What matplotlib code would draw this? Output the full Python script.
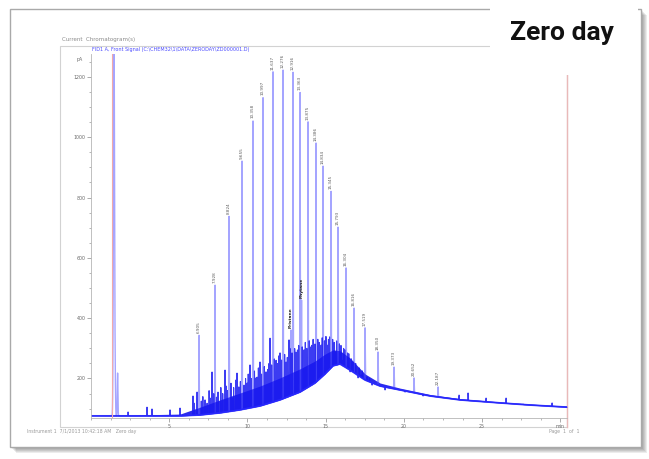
import numpy as np
import matplotlib
matplotlib.use("Agg")
import matplotlib.pyplot as plt
from matplotlib.patches import Rectangle
from matplotlib.lines import Line2D
from matplotlib.ticker import MultipleLocator, FixedLocator

# ---- chromatogram data (retention time in min, signal in pA) ----
alkane_rt = [6.905, 7.928, 8.824, 9.655, 10.358, 10.997, 11.637, 12.276,
             12.916, 13.363, 13.875, 14.386, 14.834, 15.345, 15.793, 16.304,
             16.816, 17.519, 18.350, 19.373, 20.652, 22.187]
alkane_pa = [344, 510, 739, 921, 1057, 1134, 1217, 1223,
             1217, 1150, 1051, 981, 905, 822, 703, 567,
             434, 368, 288, 238, 202, 172]

iso_names = ["Pristane", "Phytane"]
iso_rt = [12.788, 13.459]
iso_pa = [361, 460]

solvent_rt = [1.47, 1.55, 1.70]
solvent_pa = [1400, 150, 218]

minor_rt = [2.37, 3.58, 3.90, 5.05, 5.69, 6.52, 6.78,
            7.289, 7.737, 8.120, 8.568, 9.015, 9.335, 9.783, 10.166, 10.550,
            10.806, 11.189, 11.445, 11.829, 12.084, 12.468, 12.660, 13.107,
            13.619, 14.003, 14.258, 14.706, 15.090, 15.601, 16.049, 16.560,
            17.072, 17.263, 17.967, 18.798, 20.077, 21.228, 23.529, 24.105,
            25.256, 26.535, 27.621, 29.476]
minor_pa = [89, 105, 99, 96, 102, 142, 155,
            129, 222, 155, 228, 135, 218, 178, 245, 202,
            255, 222, 334, 261, 285, 255, 328, 288,
            295, 305, 275, 311, 311, 288, 261, 222,
            202, 212, 178, 162, 155, 142, 145, 152,
            135, 135, 115, 119]

# small unresolved components riding on the hump
grass_rt = [6.60, 6.75, 7.05, 7.15, 7.42, 7.55, 7.62, 7.85, 8.02, 8.30,
            8.42, 8.65, 8.72, 8.95, 9.12, 9.25, 9.45, 9.55, 9.88, 9.98,
            10.05, 10.25, 10.45, 10.62, 10.70, 10.90, 11.08, 11.30, 11.38,
            11.55, 11.72, 11.92, 12.00, 12.18, 12.38, 12.55, 12.72, 12.85,
            13.02, 13.20, 13.28, 13.50, 13.70, 13.80, 13.95, 14.10, 14.20,
            14.32, 14.50, 14.60, 14.78, 14.92, 15.02, 15.18, 15.25, 15.45,
            15.55, 15.70, 15.88, 15.98, 16.15, 16.22, 16.40, 16.48, 16.65,
            16.75, 16.92, 17.15, 17.35, 17.65, 17.80, 18.10, 18.55]
grass_pa = [118, 112, 125, 140, 118, 160, 135, 150, 138, 170,
            150, 175, 160, 185, 170, 195, 172, 190, 200, 185,
            215, 200, 225, 205, 235, 215, 240, 230, 250,
            245, 265, 250, 275, 262, 280, 270, 300, 285,
            300, 295, 310, 305, 320, 300, 325, 310, 330,
            315, 330, 320, 335, 325, 340, 330, 338, 330,
            320, 325, 315, 310, 300, 295, 285, 282, 265,
            255, 250, 235, 225, 205, 200, 185, 175]

# unresolved hump: lower edge and top of the unresolved envelope
hump_rt = [0, 5.69, 6.97, 8.25, 9.53, 10.81, 12.08, 13.36, 14.32, 14.96,
           15.47, 15.92, 16.56, 17.52, 18.48, 19.76, 21.68, 23.59, 26.15,
           28.07, 30.43]
hump_low = [76, 76, 79, 86, 96, 109, 129, 155, 185, 215,
            242, 248, 228, 195, 175, 162, 142, 129, 119, 112, 105]
hump_high = [76, 82, 105, 129, 152, 175, 202, 232, 258, 281,
             295, 292, 268, 215, 185, 168, 147, 133, 122, 115, 108]

event_rt = [1.32]

x_major = [5, 10, 15, 20, 25, 30]
x_labels = ["5", "10", "15", "20", "25", "min"]
y_major = [200, 400, 600, 800, 1000, 1200]
y_labels = ["200", "400", "600", "800", "1000", "1200"]

W, H = 649, 459
fig = plt.figure(figsize=(W / 100, H / 100), dpi=100)
fig.patch.set_facecolor("white")

# ---- page / card background (pixel coordinates) ----
bg = fig.add_axes([0, 0, 1, 1], zorder=0)
bg.set_xlim(0, W)
bg.set_ylim(H, 0)
bg.axis("off")

for d in range(1, 7):
    bg.add_patch(Rectangle((10 + d, 9 + d), 631, 438, facecolor="black",
                           alpha=0.075, lw=0))
bg.add_patch(Rectangle((10, 9), 631, 438, facecolor="white",
                       edgecolor="#a9a9a9", lw=1.0))
bg.add_patch(Rectangle((60, 46), 507, 381, facecolor="none",
                       edgecolor="#d2d2d2", lw=0.8))
bg.text(62, 40, "Current  Chromatogram(s)", fontsize=4, color="#8a8a8a",
        va="center", ha="left")
bg.text(92, 50, r"FID1 A, Front Signal (C:\CHEM32\1\DATA\ZERODAY\ZD000001.D)",
        fontsize=3.5, color="#4a4aff", va="center", ha="left")
bg.text(27, 431, "Instrument 1  7/1/2013 10:42:18 AM   Zero day",
        fontsize=3.3, color="#9a9a9a", va="center", ha="left")
bg.text(549, 432, "Page  1  of  1", fontsize=3.3, color="#9a9a9a",
        va="center", ha="left")
bg.add_line(Line2D([567, 567], [46, 427], color="#e9b9b9", lw=1.0))

# ---- chromatogram axes ----
ax_l, ax_r, ax_t, ax_b = 91, 567, 54, 418
ax = fig.add_axes([ax_l / W, (H - ax_b) / H, (ax_r - ax_l) / W,
                   (ax_b - ax_t) / H], zorder=1)
ax.patch.set_alpha(0)
ax.set_xlim(0, 30.43)
ax.set_ylim(69, 1276)

grid = np.linspace(0, 30.43, 15000)
baseline = np.interp(grid, hump_rt, hump_low)


def add_peaks(sig, rts, pas, width):
    for rt, pa in zip(rts, pas):
        amp = pa - np.interp(rt, hump_rt, hump_low)
        sig = sig + amp * np.exp(-0.5 * ((grid - rt) / width) ** 2)
    return sig


# resolved components (tall, drawn light)
main_trace = add_peaks(baseline, alkane_rt + iso_rt, alkane_pa + iso_pa,
                       0.012)
main_trace = add_peaks(main_trace, solvent_rt[:1], solvent_pa[:1], 0.035)
main_trace = add_peaks(main_trace, solvent_rt[1:], solvent_pa[1:], 0.02)

# dense small components (drawn dark)
forest = add_peaks(baseline, minor_rt, minor_pa, 0.01)
forest = add_peaks(forest, grass_rt, grass_pa, 0.008)

ax.fill_between(hump_rt, hump_low, hump_high, color="#1414e8", alpha=0.9,
                lw=0)
ax.plot(grid, main_trace, color="#4c4cff", lw=1.0, alpha=0.5)
ax.plot(grid, forest, color="#1a1af0", lw=0.8, alpha=0.85)
ax.plot(hump_rt, hump_low, color="#2a2aff", lw=1.3, alpha=0.8)

for rt in event_rt:
    ax.axvline(rt, color="#f2a9a9", lw=0.8)

for rt, pa in zip(alkane_rt, alkane_pa):
    ax.annotate(f"{rt:.3f}", (rt, pa), xytext=(0, 1.2),
                textcoords="offset points", rotation=90, ha="center",
                va="bottom", fontsize=3.0, color="#5a5a5a",
                annotation_clip=False)
for name, rt, pa in zip(iso_names, iso_rt, iso_pa):
    ax.annotate(name, (rt, pa), xytext=(0, 1.2),
                textcoords="offset points", rotation=90, ha="center",
                va="bottom", fontsize=3.2, color="#222222",
                fontweight="bold", annotation_clip=False)

for side in ("top", "right"):
    ax.spines[side].set_visible(False)
for side in ("left", "bottom"):
    ax.spines[side].set_color("#b5b5b5")
    ax.spines[side].set_linewidth(0.6)

ax.xaxis.set_major_locator(FixedLocator(x_major))
ax.set_xticklabels(x_labels)
ax.xaxis.set_minor_locator(MultipleLocator(1.25))
ax.yaxis.set_major_locator(FixedLocator(y_major))
ax.set_yticklabels(y_labels)
ax.yaxis.set_minor_locator(MultipleLocator(50))
ax.tick_params(which="major", length=3, width=0.5, color="#8a8a8a",
               labelsize=3.4, labelcolor="#6a6a6a", pad=1.0)
ax.tick_params(which="minor", length=1.6, width=0.5, color="#9a9a9a")
ax.text(-0.018, 1.0 - (59 - ax_t) / (ax_b - ax_t), "pA",
        transform=ax.transAxes, fontsize=3.4, color="#6a6a6a",
        ha="right", va="center")

# ---- heading box ----
top = fig.add_axes([0, 0, 1, 1], zorder=3)
top.set_xlim(0, W)
top.set_ylim(H, 0)
top.axis("off")
top.patch.set_alpha(0)
top.add_patch(Rectangle((490, 0), 148, 75, facecolor="white", lw=0))
top.text(562, 33, "Zero day", fontsize=19, fontweight="bold",
         family=["Roboto", "DejaVu Sans"], color="#111111",
         ha="center", va="center")

fig.savefig("out.png", dpi=100)
